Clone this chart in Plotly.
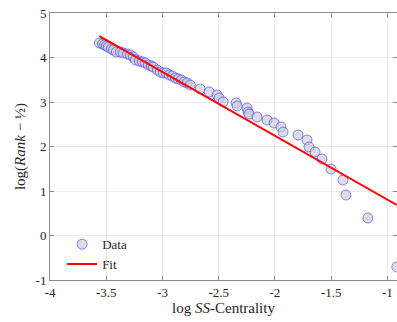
import plotly.graph_objects as go

# Data
data_x = [-3.561, -3.534, -3.516, -3.499, -3.481, -3.454, -3.437, -3.410, -3.374, -3.348,
          -3.312, -3.286, -3.259, -3.241, -3.206, -3.179, -3.153, -3.126, -3.099, -3.082,
          -3.046, -3.020, -2.993, -2.966, -2.940, -2.913, -2.886, -2.860, -2.833, -2.807,
          -2.780, -2.753, -2.665, -2.585, -2.514, -2.496, -2.461, -2.345, -2.336, -2.248,
          -2.239, -2.230, -2.159, -2.070, -2.008, -1.946, -1.928, -1.795, -1.715, -1.697,
          -1.644, -1.582, -1.502, -1.396, -1.369, -1.174, -0.917]
data_y = [4.326, 4.303, 4.281, 4.258, 4.236, 4.191, 4.169, 4.124, 4.124, 4.101,
          4.079, 4.056, 4.011, 3.944, 3.921, 3.899, 3.876, 3.831, 3.809, 3.787,
          3.719, 3.674, 3.652, 3.652, 3.607, 3.584, 3.539, 3.517, 3.494, 3.449,
          3.427, 3.382, 3.292, 3.225, 3.157, 3.090, 3.000, 2.978, 2.910, 2.865,
          2.775, 2.730, 2.663, 2.596, 2.528, 2.438, 2.326, 2.258, 2.146, 1.989,
          1.876, 1.719, 1.494, 1.247, 0.910, 0.393, -0.708]

# Linear fit coefficients
fit_slope = -1.435
fit_intercept = -0.63
fit_x = [min(data_x), max(data_x)]
fit_y = [fit_slope * v + fit_intercept for v in fit_x]

x_ticks = [-4, -3.5, -3, -2.5, -2, -1.5, -1]
x_ticklabels = ["-4", "-3.5", "-3", "-2.5", "-2", "-1.5", "-1"]
y_ticks = [-1, 0, 1, 2, 3, 4, 5]
y_ticklabels = ["-1", "0", "1", "2", "3", "4", "5"]

font_family = "Liberation Serif, DejaVu Serif, serif"
text_color = "#262626"
axis_color = "#8c8c8c"

fig = go.Figure()
fig.add_trace(go.Scatter(
    x=data_x, y=data_y, mode="markers", name="Data",
    marker=dict(symbol="circle", size=10, color="rgba(205,205,210,0.65)",
                line=dict(color="rgba(40,40,255,0.55)", width=1)),
))
fig.add_trace(go.Scatter(
    x=fit_x, y=fit_y, mode="lines", name="Fit",
    line=dict(color="#ff0000", width=2),
))

axis_common = dict(
    showgrid=True, gridcolor="#ebebeb", gridwidth=1,
    showline=True, linecolor=axis_color, linewidth=1, mirror="ticks",
    ticks="inside", ticklen=4, tickcolor=axis_color,
    zeroline=False, automargin=False,
    tickfont=dict(family=font_family, size=13, color=text_color),
)

fig.update_layout(
    width=397, height=322,
    margin=dict(l=50, r=0, t=13, b=42),
    paper_bgcolor="white", plot_bgcolor="white",
    font=dict(family=font_family, color=text_color),
    showlegend=True,
    legend=dict(x=0.035, y=0.19, xanchor="left", yanchor="top",
                bgcolor="rgba(0,0,0,0)", font=dict(family=font_family, size=13, color=text_color),
                tracegroupgap=0, itemwidth=30),
    xaxis=dict(range=[-4, -0.915], tickvals=x_ticks, ticktext=x_ticklabels,
               title=dict(text="log <i>SS</i>-Centrality", font=dict(family=font_family, size=15, color=text_color), standoff=2),
               **axis_common),
    yaxis=dict(range=[-1, 5], tickvals=y_ticks, ticktext=y_ticklabels,
               title=dict(text="log(<i>Rank</i> − ½)", font=dict(family=font_family, size=15, color=text_color), standoff=6),
               **axis_common),
)

fig.write_html("out.html", config={"displayModeBar": False},
               post_script="document.body.style.margin='0';document.body.style.overflow='hidden';")
